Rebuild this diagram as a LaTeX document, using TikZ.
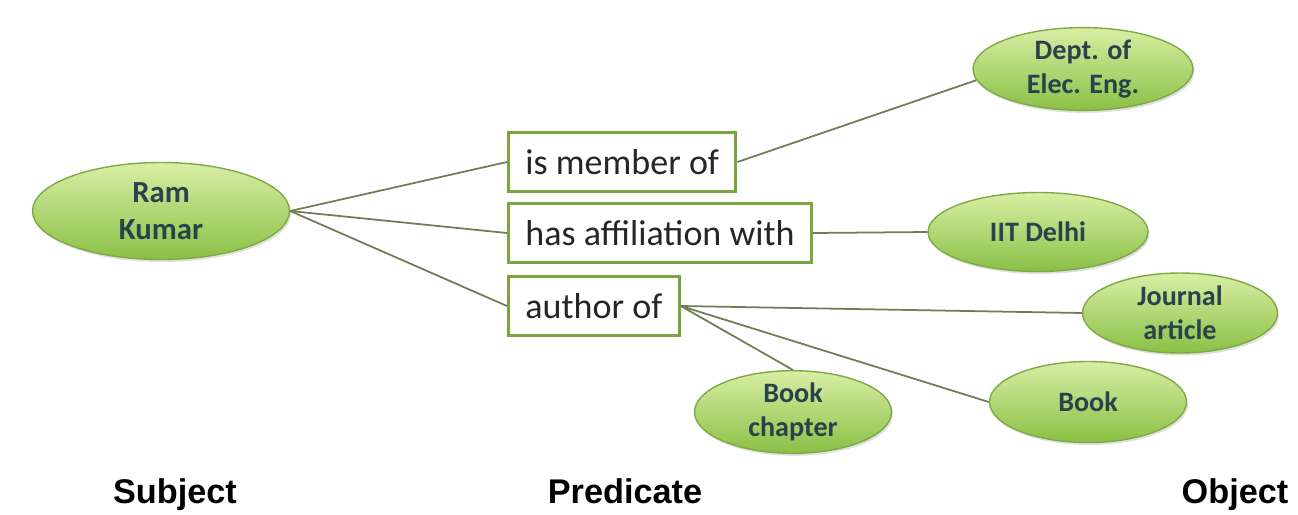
\documentclass[tikz,border=0pt]{standalone}
\usepackage{fontspec}
\setmainfont{Carlito}
\newfontfamily\headfont{Liberation Sans}
\usetikzlibrary{shapes.geometric, shadows}

\definecolor{ellLight}{RGB}{216,238,164}
\definecolor{ellDark}{RGB}{138,192,70}
\definecolor{ellEdge}{RGB}{126,170,68}
\definecolor{ellText}{RGB}{42,66,76}
\definecolor{boxEdge}{RGB}{122,164,66}
\definecolor{linkGray}{RGB}{112,124,84}

\tikzstyle{entity} = [ellipse, inner sep=0pt, align=center, draw=ellEdge, line width=0.8pt, top color=ellLight, bottom color=ellDark, text=ellText, font=\fontsize{16}{19.5}\selectfont\bfseries, drop shadow={opacity=0.25, shadow xshift=0.03cm, shadow yshift=-0.05cm}]
\tikzstyle{relation} = [rectangle, draw=boxEdge, line width=1.7pt, fill=white, anchor=west, minimum height=1.18cm, inner xsep=0.34cm, text=black!85, font=\fontsize{20.5}{24}\selectfont]
\tikzstyle{heading} = [font=\headfont\bfseries\fontsize{19.5}{23}\selectfont, anchor=base]
\tikzstyle{link} = [linkGray, line width=1pt]

\begin{document}
\begin{tikzpicture}[x=0.02cm, y=-0.02cm]

        \useasboundingbox (0,0) rectangle (1298,514);

        % Node for the subject
        \node (ram) [entity, minimum width=5.14cm, minimum height=1.94cm, font=\fontsize{17.5}{21}\selectfont\bfseries] at (161,211) {Ram\\Kumar};

        % Nodes for predicates (left aligned)
        \node (member) [relation] at (507,162) {is member of};
        \node (affil) [relation] at (507,233) {has affiliation with};
        \node (author) [relation] at (507,306) {author of};

        % Nodes for objects
        \node (dept) [entity, minimum width=4.4cm, minimum height=1.64cm] at (1083,69) {Dept. of\\Elec. Eng.};
        \node (iit) [entity, minimum width=4.4cm, minimum height=1.58cm] at (1038,232) {IIT Delhi};
        \node (journal) [entity, minimum width=3.9cm, minimum height=1.6cm] at (1180,313) {Journal\\article};
        \node (book) [entity, minimum width=3.94cm, minimum height=1.62cm] at (1088,402) {Book};
        \node (chapter) [entity, minimum width=3.94cm, minimum height=1.6cm] at (793,412) {Book\\chapter};

        % Column headings
        \node (subj) [heading] at (175,503) {Subject};
        \node (pred) [heading] at (625,503) {Predicate};
        \node (obj) [heading] at (1235,503) {Object};

        % Links from subject to predicates
        \draw [link] (ram.east) -- (member.west);
        \draw [link] (ram.east) -- (affil.west);
        \draw [link] (ram.east) -- (author.west);

        % Links from predicates to objects
        \draw [link] (member.east) -- (dept.186);
        \draw [link] (affil.east) -- (iit.west);
        \draw [link] (author.east) -- (journal.west);
        \draw [link] (author.east) -- (book.west);
        \draw [link] (author.east) -- (chapter.north);

    \end{tikzpicture}
\end{document}
